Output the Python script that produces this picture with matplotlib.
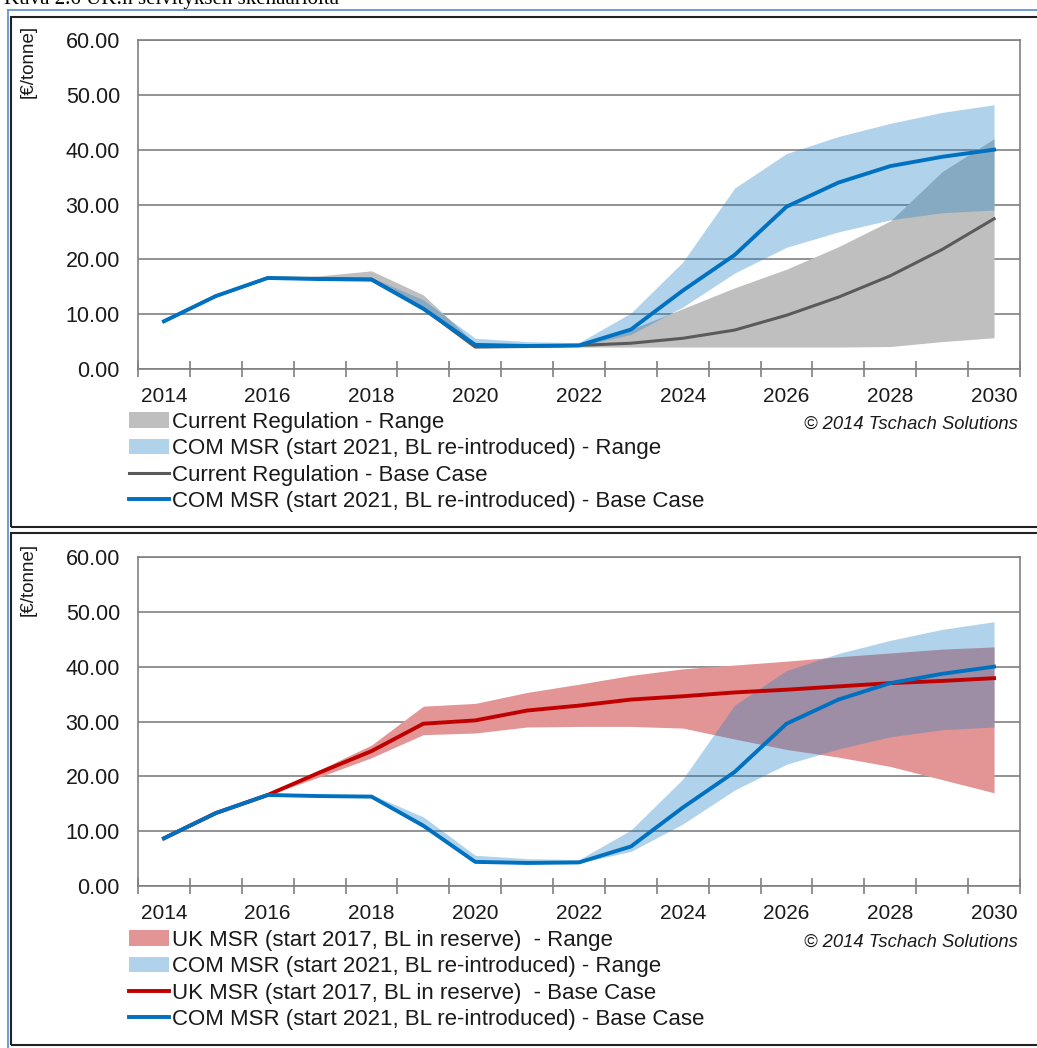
import numpy as np
import matplotlib
matplotlib.use("Agg")
import matplotlib.pyplot as plt
from matplotlib.patches import Patch, Rectangle
from matplotlib.lines import Line2D

plt.rcParams['font.family'] = ['Liberation Sans', 'DejaVu Sans']

# data (EUR/tonne)
years = list(range(2014, 2031))

cur_base = [8.7, 13.3, 16.6, 16.5, 16.4, 11.0, 4.0, 4.1, 4.3, 4.7, 5.6, 7.1, 9.8, 13.1, 17.0, 21.8, 27.4]
cur_low = [8.7, 13.3, 16.6, 16.3, 16.1, 10.8, 4.0, 4.0, 4.0, 4.0, 4.0, 4.0, 4.0, 4.0, 4.1, 5.0, 5.7]
cur_high = [8.7, 13.3, 16.6, 17.0, 17.9, 13.5, 4.6, 4.5, 4.6, 7.2, 11.0, 14.8, 18.2, 22.3, 27.0, 36.0, 42.0]

com_base = [8.7, 13.3, 16.6, 16.4, 16.3, 11.0, 4.4, 4.2, 4.3, 7.2, 14.3, 20.8, 29.6, 34.0, 37.0, 38.7, 40.0]
com_low = [8.7, 13.3, 16.6, 16.3, 16.1, 10.6, 4.2, 4.1, 4.2, 6.3, 11.3, 17.5, 22.2, 25.0, 27.2, 28.5, 29.0]
com_high = [8.7, 13.3, 16.6, 16.6, 16.7, 12.6, 5.6, 5.0, 4.8, 10.2, 19.5, 33.0, 39.3, 42.4, 44.8, 46.8, 48.2]

uk_base = [8.7, 13.3, 16.6, 20.7, 24.6, 29.6, 30.2, 32.0, 32.9, 34.0, 34.6, 35.3, 35.8, 36.4, 37.0, 37.4, 37.9]
uk_low = [8.7, 13.3, 16.6, 19.9, 23.4, 27.6, 27.9, 29.0, 29.1, 29.1, 28.8, 26.8, 24.9, 23.5, 21.8, 19.4, 17.0]
uk_high = [8.7, 13.3, 16.6, 21.2, 25.7, 32.8, 33.3, 35.3, 36.8, 38.4, 39.6, 40.3, 41.0, 41.8, 42.5, 43.2, 43.6]

yticks = [0, 10, 20, 30, 40, 50, 60]

W, H = 1037, 1048

def fx(px):
    return px / W

def fy(py):
    return 1 - py / H

GRAY_FILL = '#bfbfbf'
BLUE_FILL = '#1d83c8'
RED_FILL = '#e39595'
GRAY_LINE = '#5a5a5a'
BLUE_LINE = '#0070c0'
RED_LINE = '#c00000'
AXIS = '#808080'
TEXT = '#1a1a1a'

fig = plt.figure(figsize=(W / 100, H / 100), dpi=100)


def setup_axes(top, bottom):
    ax = fig.add_axes([fx(138), fy(bottom), fx(1020) - fx(138), (bottom - top) / H])
    ax.set_xlim(2013.5, 2030.5)
    ax.set_ylim(0, 60)
    ax.set_yticks(yticks)
    ax.set_yticklabels(['%.2f' % v for v in yticks])
    ax.yaxis.grid(True, color=AXIS, lw=1.2)
    ax.set_axisbelow(True)
    ax.set_xticks(years[::2])
    ax.set_xticks(np.arange(2013.5, 2031, 1.0), minor=True)
    ax.tick_params(axis='y', length=0, pad=13, labelsize=15.5, labelcolor=TEXT)
    ax.tick_params(axis='x', which='major', length=0, pad=13, labelsize=15, labelcolor=TEXT)
    ax.tick_params(axis='x', which='minor', length=11, width=1.2, direction='inout', color=AXIS)
    for s in ax.spines.values():
        s.set_color(AXIS)
        s.set_linewidth(1.2)
    return ax


# top panel
ax1 = setup_axes(40, 369)
ax1.fill_between(years, cur_low, cur_high, color=GRAY_FILL, lw=0)
ax1.fill_between(years, com_low, com_high, color=BLUE_FILL, alpha=0.35, lw=0)
ax1.plot(years, cur_base, color=GRAY_LINE, lw=2.2)
ax1.plot(years, com_base, color=BLUE_LINE, lw=2.8)

# bottom panel
ax2 = setup_axes(557, 886)
ax2.fill_between(years, uk_low, uk_high, color=RED_FILL, lw=0)
ax2.fill_between(years, com_low, com_high, color=BLUE_FILL, alpha=0.35, lw=0)
ax2.plot(years, uk_base, color=RED_LINE, lw=2.8)
ax2.plot(years, com_base, color=BLUE_LINE, lw=2.8)

com_label = 'COM MSR (start 2021, BL re-introduced)'
uk_label = 'UK MSR (start 2017, BL in reserve) '

leg_kw = dict(loc='upper left', frameon=False, fontsize=16, handlelength=1.8,
              handletextpad=0.12, labelspacing=0.24, borderpad=0, borderaxespad=0,
              labelcolor=TEXT)

h1 = [Patch(facecolor=GRAY_FILL, lw=0),
      Patch(facecolor=BLUE_FILL, alpha=0.35, lw=0),
      Line2D([], [], color=GRAY_LINE, lw=2.2),
      Line2D([], [], color=BLUE_LINE, lw=2.8)]
l1 = ['Current Regulation - Range', com_label + ' - Range',
      'Current Regulation - Base Case', com_label + ' - Base Case']
fig.legend(h1, l1, bbox_to_anchor=(fx(129), fy(412)), **leg_kw)

h2 = [Patch(facecolor=RED_FILL, lw=0),
      Patch(facecolor=BLUE_FILL, alpha=0.35, lw=0),
      Line2D([], [], color=RED_LINE, lw=2.8),
      Line2D([], [], color=BLUE_LINE, lw=2.8)]
l2 = [uk_label + ' - Range', com_label + ' - Range',
      uk_label + ' - Base Case', com_label + ' - Base Case']
fig.legend(h2, l2, bbox_to_anchor=(fx(129), fy(930)), **leg_kw)

# copyright notes and unit labels
for y in (424, 942):
    fig.text(fx(1018), fy(y), '\u00a9 2014 Tschach Solutions', ha='right', va='center',
             style='italic', fontsize=13.2, color=TEXT)
for y in (25, 543):
    fig.text(fx(28), fy(y), '[\u20ac/tonne]', rotation=90, ha='center', va='top',
             fontsize=13.5, color=TEXT)

# caption cut off at the top of the screenshot
fig.text(fx(4), fy(4), 'Kuva 2.6 UK:n selvityksen skenaarioita', family='Liberation Serif',
         fontsize=15, va='baseline', ha='left')

# frames around the panels
fig.add_artist(Line2D([fx(8), fx(1037)], [fy(10), fy(10)], color='#6f9bd4', lw=1.4))
fig.add_artist(Line2D([fx(8), fx(8)], [fy(10), fy(1048)], color='#6f9bd4', lw=1.4))
for top, bottom in ((17, 527), (533, 1045)):
    fig.add_artist(Rectangle((fx(11), fy(bottom)), fx(1045) - fx(11), (bottom - top) / H,
                             fill=False, ec='#222222', lw=1.5, transform=fig.transFigure))

fig.savefig('out.png', dpi=100)
